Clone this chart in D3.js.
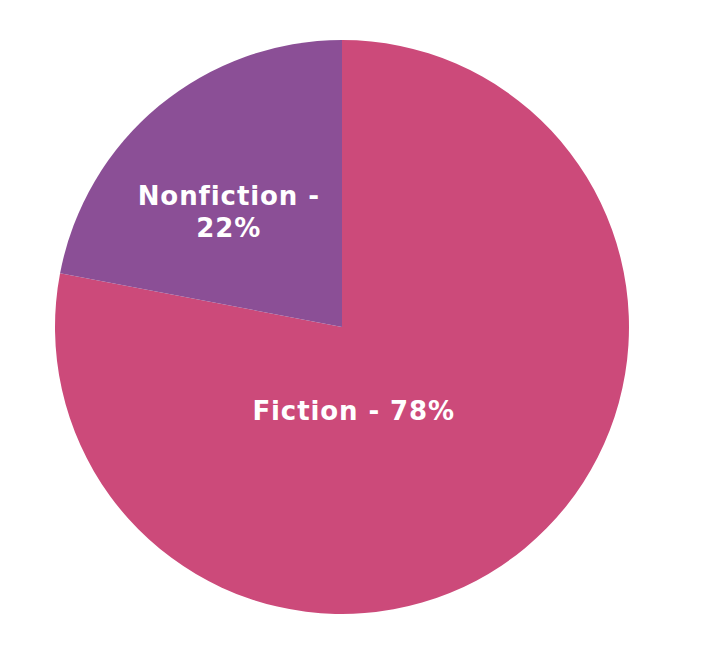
<!DOCTYPE html>
<html>
<head>
<meta charset="utf-8">
<script src="https://cdn.jsdelivr.net/npm/d3@7"></script>
<style>
  body { margin: 0; background: #fff; }
  svg { display: block; }
</style>
</head>
<body>
<div id="chart"></div>
<script>
var categories = ["Fiction", "Nonfiction"];
var shares = [78, 22];
var sliceColors = ["#cc4a7a", "#8b4f96"];

var width = 701, height = 647;
var cx = 342, cy = 327, radius = 287;

var svg = d3.select("#chart").append("svg")
    .attr("width", width)
    .attr("height", height);

var g = svg.append("g").attr("transform", "translate(" + cx + "," + cy + ")");

var data = categories.map(function(c, i) { return { name: c, value: shares[i] }; });

var pie = d3.pie().sort(null).value(function(d) { return d.value; });
var arc = d3.arc().innerRadius(0).outerRadius(radius);
var arcs = pie(data);

g.selectAll("path.slice")
    .data(arcs)
    .enter().append("path")
    .attr("class", "slice")
    .attr("d", arc)
    .attr("fill", function(d, i) { return sliceColors[i]; });

// label placement: angle (deg, from top clockwise) and radius per slice
var labelAngle = [172, 316], labelRadius = [84, 163];
function labelPos(d, i) {
    var a = labelAngle[i] * Math.PI / 180, r = labelRadius[i];
    return [r * Math.sin(a), -r * Math.cos(a)];
}

var labels = g.selectAll("text.lbl")
    .data(arcs)
    .enter().append("text")
    .attr("class", "lbl")
    .attr("text-anchor", "middle")
    .attr("fill", "#fff")
    .style("font-family", "'DejaVu Sans', Verdana, sans-serif")
    .style("font-weight", "bold")
    .style("font-size", "26px")
    .style("letter-spacing", "0.9px")
    .attr("transform", function(d, i) {
        var p = labelPos(d, i);
        return "translate(" + p[0] + "," + p[1] + ")";
    });

labels.each(function(d, i) {
    var t = d3.select(this);
    if (i === 0) {
        t.append("tspan").attr("x", 0).attr("dy", "0.38em").text(d.data.name + " - " + d.data.value + "%");
    } else {
        t.append("tspan").attr("x", 0).attr("dy", "-0.2em").text(d.data.name + " -");
        t.append("tspan").attr("x", 0).attr("dy", "1.23em").text(d.data.value + "%");
    }
});
</script>
</body>
</html>
